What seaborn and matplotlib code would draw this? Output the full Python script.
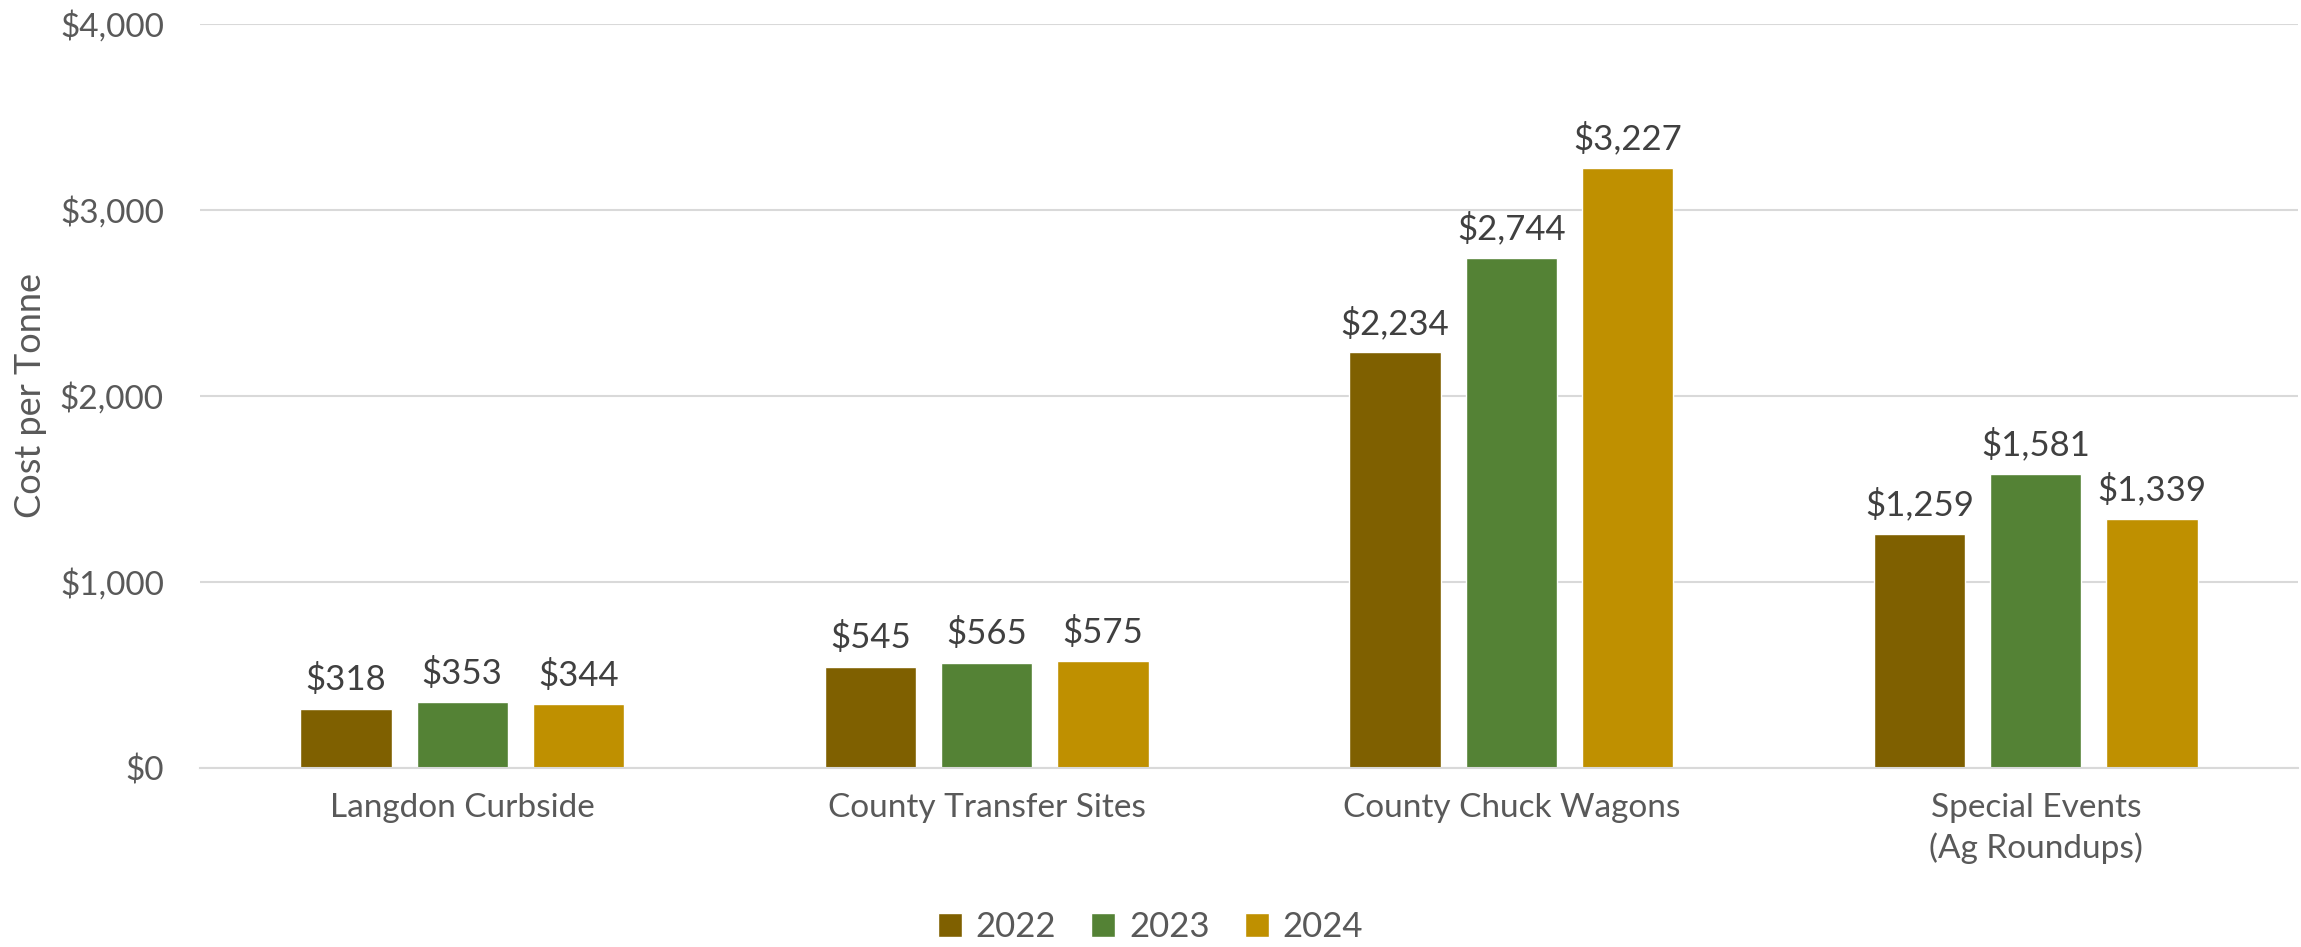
import numpy as np
import pandas as pd
import matplotlib
matplotlib.use('Agg')
import matplotlib.pyplot as plt
import seaborn as sns

# data
categories = ['Langdon Curbside', 'County Transfer Sites', 'County Chuck Wagons', 'Special Events\n(Ag Roundups)']
years = ['2022', '2023', '2024']
cost_2022 = [318, 545, 2234, 1259]
cost_2023 = [353, 565, 2744, 1581]
cost_2024 = [344, 575, 3227, 1339]
colors = ['#7F6000', '#548235', '#BF9000']

rows = []
for yr, vals in zip(years, [cost_2022, cost_2023, cost_2024]):
    for cat, v in zip(categories, vals):
        rows.append({'category': cat, 'year': yr, 'cost': v})
df = pd.DataFrame(rows)

sns.set_theme(style='white')
plt.rcParams['font.family'] = ['Lato', 'DejaVu Sans']
text_grey = '#595959'

fig = plt.figure(figsize=(23.01, 9.47), dpi=100)
ax = fig.add_axes([0.0869, 0.189, 0.9118, 0.7857])

sns.barplot(data=df, x='category', y='cost', hue='year', hue_order=years,
            palette=colors, width=0.665, gap=0.215, saturation=1,
            errorbar=None, ax=ax, legend=True)

for c in ax.containers:
    ax.bar_label(c, labels=[f'${v:,.0f}' for v in c.datavalues], padding=9,
                 fontsize=25, color='#404040')

ax.set_ylim(0, 4000)
ax.set_xlim(-0.5, 3.5)
ax.set_yticks([0, 1000, 2000, 3000, 4000])
ax.set_yticklabels([f'${v:,}' for v in [0, 1000, 2000, 3000, 4000]])
ax.yaxis.grid(True, color='#D9D9D9', linewidth=1.5)
ax.set_axisbelow(True)
for s in ['top', 'right', 'left']:
    ax.spines[s].set_visible(False)
ax.spines['bottom'].set_color('#D9D9D9')
ax.spines['bottom'].set_linewidth(1.5)
ax.tick_params(axis='both', length=0, labelsize=24, colors=text_grey)
ax.tick_params(axis='y', pad=26)
ax.tick_params(axis='x', pad=18)
for t in ax.get_xticklabels():
    t.set_linespacing(1.35)
ax.set_xlabel('')
ax.set_ylabel('Cost per Tonne', fontsize=26, color=text_grey)
ax.yaxis.set_label_coords(-0.073, 0.5)

handles, labels = ax.get_legend_handles_labels()
ax.get_legend().remove()
fig.legend(handles, labels, loc='center', bbox_to_anchor=(0.5, 0.021), ncol=3,
           frameon=False, fontsize=25, labelcolor=text_grey, handlelength=0.7,
           handleheight=0.7, handletextpad=0.4, columnspacing=1.0)

fig.savefig('out.png', dpi=100)
